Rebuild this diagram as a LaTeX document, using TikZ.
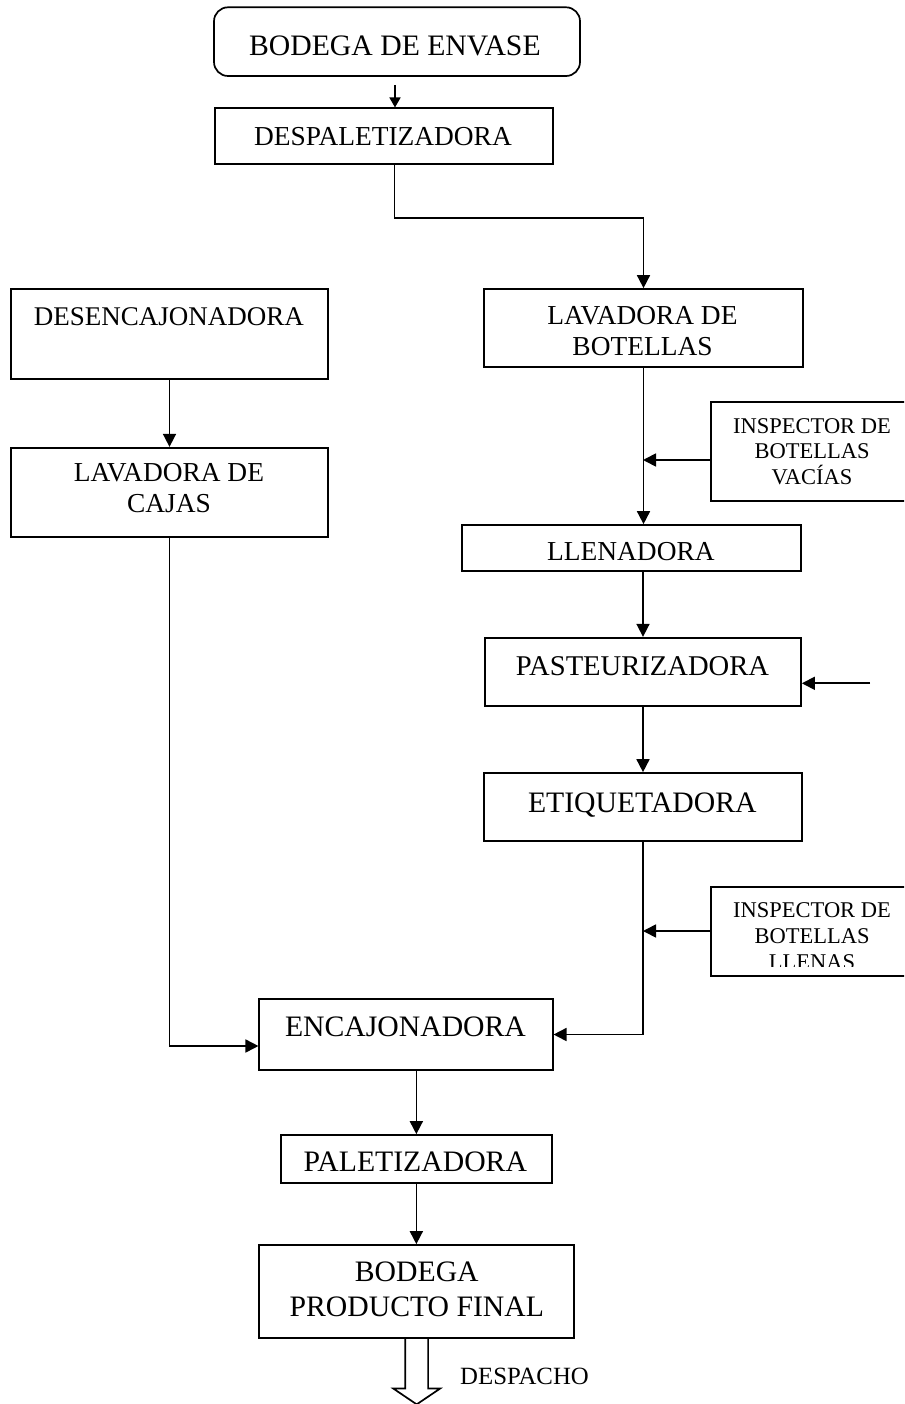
\documentclass[tikz,border=0pt]{standalone}
\usepackage{fontspec}
\setmainfont{Liberation Serif}
\usetikzlibrary{arrows.meta,calc}

\tikzset{
  box/.style={draw, line width=1.7pt, inner sep=0pt, rectangle},
  line/.style={line width=1.7pt},
  arr/.style={line width=1.7pt, -{Triangle[length=13pt,width=13pt]}},
  arrsmall/.style={line width=1.7pt, -{Triangle[length=10pt,width=11pt]}},
  txt/.style={inner sep=0pt, align=center},
  fbig/.style={font=\fontsize{29.7}{35}\selectfont},
  fmid/.style={font=\fontsize{27.4}{31}\selectfont},
  fsmall/.style={font=\fontsize{22.5}{25.5}\selectfont},
}

\begin{document}
\begin{tikzpicture}[x=1pt,y=-1pt]
\useasboundingbox (0,0) rectangle (904,1404);
\clip (0,0) rectangle (904,1404);

% ---- process boxes ----
\node[box, rounded corners=14pt, minimum width=366, minimum height=68.7] (envase) at (397,41.65) {};
\node[box, minimum width=337.7, minimum height=56]  (despal)  at (383.85,136.3) {};
\node[box, minimum width=319,   minimum height=78]  (lavbot)  at (643.5,328) {};
\node[box, minimum width=202.3, minimum height=98.7] (insp1)  at (811.85,451.65) {};
\node[box, minimum width=339,   minimum height=46]  (llen)    at (631.5,548) {};
\node[box, minimum width=316,   minimum height=68]  (pasteur) at (643,671.7) {};
\node[box, minimum width=318,   minimum height=68]  (etiq)    at (643,807) {};
\node[box, minimum width=202.3, minimum height=89]  (insp2)   at (811.85,931.2) {};
\node[box, minimum width=317,   minimum height=90]  (desenc)  at (169.5,334) {};
\node[box, minimum width=317,   minimum height=89]  (lavcaj)  at (169.5,492.2) {};
\node[box, minimum width=293.4, minimum height=71]  (encaj)   at (406,1034.5) {};
\node[box, minimum width=271.3, minimum height=47.7] (palet)  at (416.35,1158.85) {};
\node[box, minimum width=315,   minimum height=92.7] (bodfin) at (416.5,1291.35) {};

% ---- box labels ----
\node[txt, fbig, anchor=base] (envase-t) at (394.9,56) {BODEGA DE ENVASE};
\node[txt, fmid, anchor=base] (despal-t) at (382.9,145.7) {DESPALETIZADORA};
\node[txt, fmid] (lavbot-t) at (642.5,331.5) {LAVADORA DE\\BOTELLAS};
\node[txt, fsmall] (insp1-t) at (812,451.6) {INSPECTOR DE\\BOTELLAS\\VACÍAS};
\node[txt, fmid, anchor=base] (llen-t) at (630.9,560) {LLENADORA};
\node[txt, font=\fontsize{28.6}{33}\selectfont, anchor=base] (pasteur-t) at (642.5,675.7) {PASTEURIZADORA};
\node[txt, fbig, anchor=base] (etiq-t) at (642.3,812) {ETIQUETADORA};
% the last line of this label runs past the inner margin of its box and is cut
\begin{scope}
  \clip (700,880) rectangle (904,966.7);
  \node[txt, font=\fontsize{22.5}{26}\selectfont] (insp2-t) at (812,936.2) {INSPECTOR DE\\BOTELLAS\\LLENAS};
\end{scope}
\node[txt, font=\fontsize{27}{31}\selectfont, anchor=base] (desenc-t) at (169,325) {DESENCAJONADORA};
\node[txt, fmid] (lavcaj-t) at (169,488.5) {LAVADORA DE\\CAJAS};
\node[txt, fbig, anchor=base] (encaj-t) at (405.5,1036.3) {ENCAJONADORA};
\node[txt, fbig, anchor=base] (palet-t) at (415.3,1171.7) {PALETIZADORA};
\node[txt, fbig] (bodfin-t) at (416.8,1289.4) {BODEGA\\PRODUCTO FINAL};

% ---- connector anchors ----
\coordinate (a0)   at (395,85);
\coordinate (k1)   at (394.5,218);
\coordinate (sp1)  at (643,460);
\coordinate (sp2)  at (643,931);
\coordinate (feed) at (870,683.3);
\coordinate (jr)   at (643,1034.5);
\coordinate (jl)   at (169.5,1046);

% ---- connectors ----
\draw[arrsmall] (a0) -- (a0 |- despal.north);
\draw[arr] (k1 |- despal.south) -- (k1) -| (lavbot.north);
\draw[arr] (lavbot.south) -- (lavbot.south |- llen.north);
\draw[arr] (insp1.west |- sp1) -- (sp1);
\draw[arr] (pasteur.north |- llen.south) -- (pasteur.north);
\draw[arr] (feed) -- (feed -| pasteur.east);
\draw[arr] (pasteur.south) -- (etiq.north);
\draw[arr] (etiq.south) -- (jr) -- (jr -| encaj.east);
\draw[arr] (insp2.west |- sp2) -- (sp2);
\draw[arr] (desenc.south) -- (lavcaj.north);
\draw[arr] (lavcaj.south) -- (jl) -- (jl -| encaj.west);
\draw[arr] (palet.north |- encaj.south) -- (palet.north);
\draw[arr] (palet.south) -- (palet.south |- bodfin.north);

% ---- hollow dispatch arrow ----
\draw[line, line join=miter] (bodfin.south) ++(-11.2,0) -- ++(0,50) -- ++(-12,0)
  -- ++(23.4,15.8) -- ++(23.4,-15.8) -- ++(-12,0) -- ++(0,-50);
\node[txt, font=\fontsize{24.8}{29}\selectfont, anchor=base west] (despacho) at (460,1384) {DESPACHO};

\end{tikzpicture}
\end{document}
